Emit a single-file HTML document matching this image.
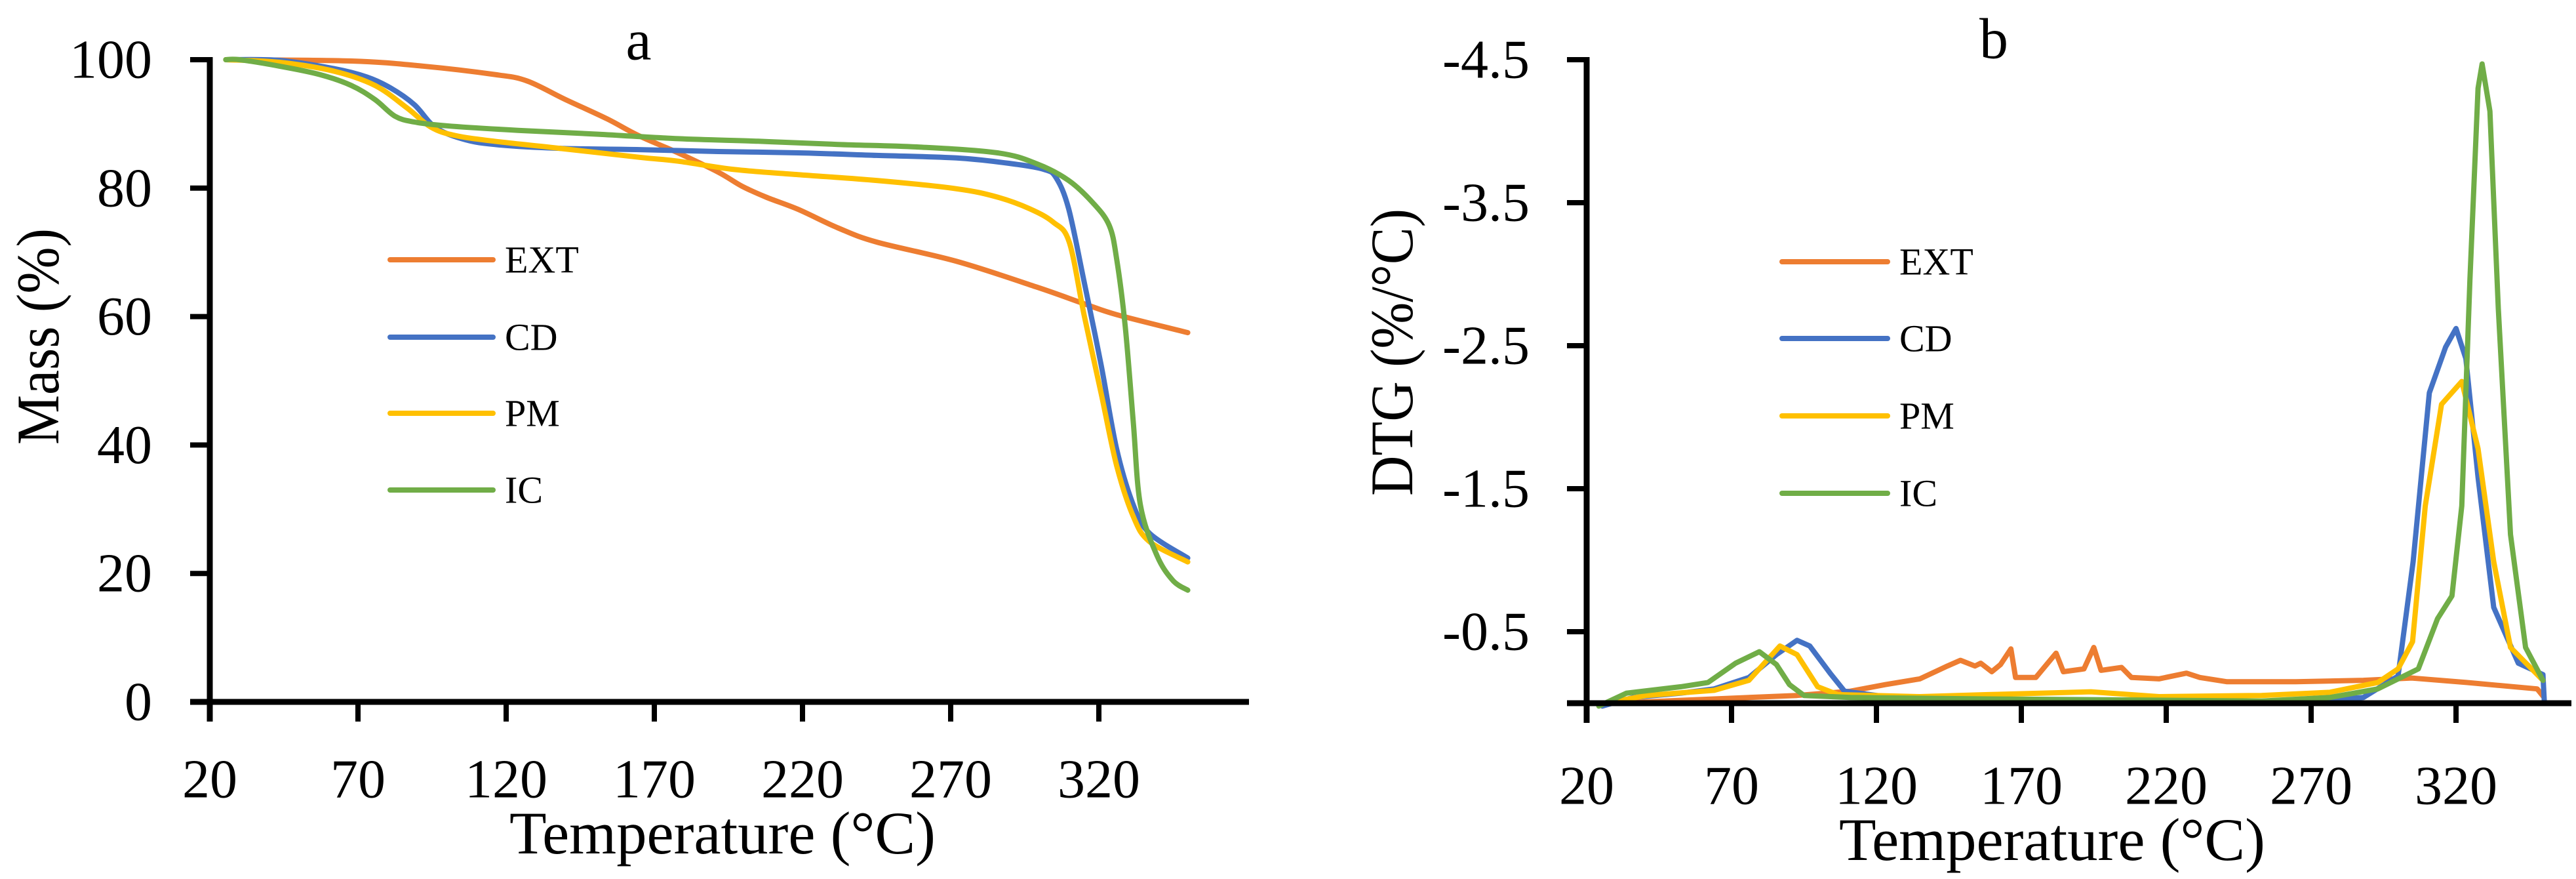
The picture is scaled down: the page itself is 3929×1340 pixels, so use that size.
<!DOCTYPE html>
<html><head><meta charset="utf-8"><style>
html,body{margin:0;padding:0;background:#fff}
svg{display:block}
text{font-family:"Liberation Serif",serif;fill:#000}
</style></head><body>
<svg id="fig" width="3929" height="1340" viewBox="0 0 3929 1340" xmlns="http://www.w3.org/2000/svg">
<g id="ga"></g>
<g id="gb"></g>
</svg>
<script>
// ---------- Chart a data (Mass %) ----------
const extT_a=[25.4,67.7,91.9,116,127,140,154,164.6,178,191.5,199.6,207.7,218.5,232,245,272,299,315,326,350];
const extM_a=[100,99.8,99,97.7,96.7,93.8,90.8,88.2,85.5,82.5,80.3,78.6,76.7,73.8,71.6,68.6,64.6,62,60.3,57.5];
const cdT_a=[25.4,43.4,62,73,81,89,96,105,116,138,165,191.5,218.5,245,272,290.7,301.6,305.6,309.8,315,320.8,326,331.6,337,350];
const cdM_a=[100,99.9,98.6,97.3,95.6,93,89.5,87.7,86.8,86.2,86,85.7,85.5,85.1,84.7,83.8,82.9,81.6,76.8,65.5,52.4,39.4,30.7,26.3,22.4];
const pmT_a=[25.4,43.4,62,75.7,86.5,94.6,102.7,116,138,165,178,197,218.5,245,272,285.8,296.6,304.6,310,315,320.8,326,331.6,337,350];
const pmM_a=[100,99.6,98.2,96,92.5,89.5,88.2,87.3,86.2,84.8,84.2,82.9,82.1,81.2,79.9,78.6,76.8,74.7,71.6,60.3,48,36.8,28.9,25,21.8];
const icT_a=[25.4,30,43.4,57,67.7,75.7,82.5,89,100,124,151,178,205,232,259,285.8,299,309.8,318,323.5,326,328.9,331.6,334,339.6,345,350];
const icM_a=[100,100,99,97.7,96,93.8,91.2,90.3,89.7,89,88.4,87.7,87.3,86.8,86.4,85.5,83.8,81.2,77.7,74.2,69,58.5,43.7,30.7,22.8,18.9,17.4];
const xTicksA=[20,70,120,170,220,270,320];
const yTicksA=[0,20,40,60,80,100];
const yTickLabelsA=["0","20","40","60","80","100"];

// ---------- Chart b data (DTG %/°C) ----------
const extT_b=[29,64,92.6,111,123,135,144.5,149,154,156,159.8,162.8,166.4,168,175,182,184.5,191.6,195,197.5,204.6,208,217.5,227,231.6,241,264.7,288,304.7,323.6,348,350];
const extD_b=[0,-0.03,-0.054,-0.084,-0.13,-0.17,-0.26,-0.30,-0.26,-0.28,-0.22,-0.27,-0.38,-0.18,-0.18,-0.35,-0.22,-0.24,-0.39,-0.23,-0.25,-0.18,-0.17,-0.21,-0.18,-0.15,-0.15,-0.16,-0.176,-0.145,-0.10,-0.05];
const cdT_b=[25.4,36,52.5,64,76,85.5,92.6,97,104,109,123,158.6,205.7,264.7,288,300,305.2,310.8,316.4,320,323.4,327.6,333,341.5,350,350.5];
const cdD_b=[0.02,-0.04,-0.07,-0.10,-0.18,-0.34,-0.44,-0.40,-0.21,-0.084,-0.046,-0.008,0,-0.008,-0.04,-0.19,-0.99,-2.17,-2.49,-2.62,-2.41,-1.58,-0.67,-0.28,-0.2,0];
const pmT_b=[26.5,40.7,64,76,86.7,92.6,99.7,106.7,135,158.6,194,217.5,252.9,276.4,293,300,305,309.4,315,322,327.6,333,338.8,350];
const pmD_b=[0,-0.054,-0.09,-0.16,-0.40,-0.34,-0.115,-0.06,-0.046,-0.06,-0.08,-0.046,-0.054,-0.076,-0.145,-0.24,-0.43,-1.38,-2.09,-2.25,-1.78,-0.99,-0.39,-0.16];
const icT_b=[24.2,33.7,52.5,61.9,71.4,79.6,85.5,90,95,111,158.6,205.7,252.9,276.4,293,307,313.6,318.6,322,324.8,327.6,329,331.7,334.6,338.8,344,350];
const icD_b=[0.02,-0.07,-0.115,-0.145,-0.28,-0.36,-0.27,-0.13,-0.054,-0.04,-0.03,-0.023,-0.015,-0.04,-0.1,-0.24,-0.59,-0.75,-1.38,-2.96,-4.3,-4.47,-4.14,-2.76,-1.18,-0.39,-0.16];
const xTicksB=[20,70,120,170,220,270,320];
const yTicksB=[-4.5,-3.5,-2.5,-1.5,-0.5];
const yTickLabelsB=["-4.5","-3.5","-2.5","-1.5","-0.5"];
const seriesNames=["EXT","CD","PM","IC"];
const colors=["#ED7D31","#4472C4","#FFC000","#70AD47"];

const NS="http://www.w3.org/2000/svg";
function mk(parent,tag,attrs,txt){const e=document.createElementNS(NS,tag);for(const k in attrs)e.setAttribute(k,attrs[k]);if(txt!==undefined)e.textContent=txt;parent.appendChild(e);return e;}

function smoothPath(pts){
  let d="M"+pts[0][0].toFixed(1)+","+pts[0][1].toFixed(1);
  for(let i=0;i<pts.length-1;i++){
    const p0=pts[Math.max(0,i-1)],p1=pts[i],p2=pts[i+1],p3=pts[Math.min(pts.length-1,i+2)];
    const t=1/6;
    const c1x=p1[0]+(p2[0]-p0[0])*t,c1y=p1[1]+(p2[1]-p0[1])*t;
    const c2x=p2[0]-(p3[0]-p1[0])*t,c2y=p2[1]-(p3[1]-p1[1])*t;
    d+="C"+c1x.toFixed(1)+","+c1y.toFixed(1)+" "+c2x.toFixed(1)+","+c2y.toFixed(1)+" "+p2[0].toFixed(1)+","+p2[1].toFixed(1);
  }
  return d;
}

function drawChart(g,cfg){
  const sx=v=>cfg.x0+(v-cfg.xmin)*cfg.xs;
  const sy=v=>cfg.y0+(v-cfg.ymin)*(cfg.yTop-cfg.y0)/(cfg.ymax-cfg.ymin);
  cfg.series.forEach((s,i)=>{
    const pts=s.T.map((t,j)=>[sx(t),sy(s.V[j])]);
    const d=cfg.smooth?smoothPath(pts):pts.map((p,j)=>(j?"L":"M")+p[0].toFixed(1)+","+p[1].toFixed(1)).join("");
    const p=mk(g,"path",{d:d,fill:"none",stroke:colors[i],"stroke-width":8,"stroke-linejoin":"round","stroke-linecap":"round"});
    
    
  });
  const ax=mk(g,"line",{x1:cfg.x0,y1:sy(cfg.ymax)-4,x2:cfg.x0,y2:sy(cfg.xAxisAt)+30,stroke:"#000","stroke-width":9});
  
  
  const xa=mk(g,"line",{x1:cfg.x0-30,y1:sy(cfg.xAxisAt),x2:cfg.xEnd,y2:sy(cfg.xAxisAt),stroke:"#000","stroke-width":9});
  
  
  cfg.xTicks.forEach(t=>{
    const l=mk(g,"line",{x1:sx(t),y1:sy(cfg.xAxisAt),x2:sx(t),y2:sy(cfg.xAxisAt)+30,stroke:"#000","stroke-width":8});
    
    
    const tx=mk(g,"text",{x:sx(t),y:cfg.xLabelY,"font-size":84,"text-anchor":"middle","dominant-baseline":"central"},String(t));
    
    
  });
  cfg.yTicks.forEach((t,i)=>{
    const l=mk(g,"line",{x1:cfg.x0-30,y1:sy(t),x2:cfg.x0,y2:sy(t),stroke:"#000","stroke-width":8});
    
    
    const tx=mk(g,"text",{x:cfg.yLabelRight,y:sy(t),"font-size":84,"text-anchor":"end","dominant-baseline":"central"},cfg.yLabels[i]);
    
    
  });
  const xt=mk(g,"text",{x:cfg.xTitleX,y:cfg.xTitleY,"font-size":92,"text-anchor":"middle","dominant-baseline":"central",textLength:650,lengthAdjust:"spacingAndGlyphs"},"Temperature (°C)");
  
  
  const yt=mk(g,"text",{x:0,y:0,"font-size":92,"text-anchor":"middle","dominant-baseline":"central",transform:`translate(${cfg.yTitleX},${cfg.yTitleY}) rotate(-90)`,textLength:cfg.yTitleLen,lengthAdjust:"spacingAndGlyphs"},cfg.yTitle);
  
  
  const pt=mk(g,"text",{x:cfg.panelX,y:cfg.panelY,"font-size":88,"text-anchor":"middle","dominant-baseline":"central"},cfg.panel);
  
  
  cfg.legY.forEach((y,i)=>{
    const lg=mk(g,"g",{});
    
    
    mk(lg,"line",{x1:cfg.legX1,y1:y,x2:cfg.legX2,y2:y,stroke:colors[i],"stroke-width":8,"stroke-linecap":"round"});
    mk(lg,"text",{x:cfg.legX2+18,y:y,"font-size":58,"dominant-baseline":"central"},seriesNames[i]);
  });
}

drawChart(document.getElementById("ga"),{
  id:"chart-a",smooth:true,x0:320,xmin:20,xs:4.52,xEnd:1905,y0:1070,yTop:91,ymin:0,ymax:100,xAxisAt:0,
  series:[{T:extT_a,V:extM_a},{T:cdT_a,V:cdM_a},{T:pmT_a,V:pmM_a},{T:icT_a,V:icM_a}],
  xTicks:xTicksA,yTicks:yTicksA,yLabels:yTickLabelsA,xLabelY:1188,yLabelRight:232,
  xTitleX:1102,xTitleY:1270,yTitle:"Mass (%)",yTitleX:58,yTitleY:513,yTitleLen:330,
  panel:"a",panelX:974,panelY:62,legX1:595,legX2:752,legY:[396,514,630,747]
});
drawChart(document.getElementById("gb"),{
  id:"chart-b",smooth:false,x0:2420,xmin:20,xs:4.42,xEnd:3922,y0:1072,yTop:91,ymin:0,ymax:-4.5,xAxisAt:0,
  series:[{T:extT_b,V:extD_b},{T:cdT_b,V:cdD_b},{T:pmT_b,V:pmD_b},{T:icT_b,V:icD_b}],
  xTicks:xTicksB,yTicks:yTicksB,yLabels:yTickLabelsB,xLabelY:1198,yLabelRight:2333,
  xTitleX:3130,xTitleY:1280,yTitle:"DTG (%/°C)",yTitleX:2123,yTitleY:537,yTitleLen:438,
  panel:"b",panelX:3041,panelY:60,legX1:2718,legX2:2879,legY:[399,516,634,752]
});
</script>
</body></html>
